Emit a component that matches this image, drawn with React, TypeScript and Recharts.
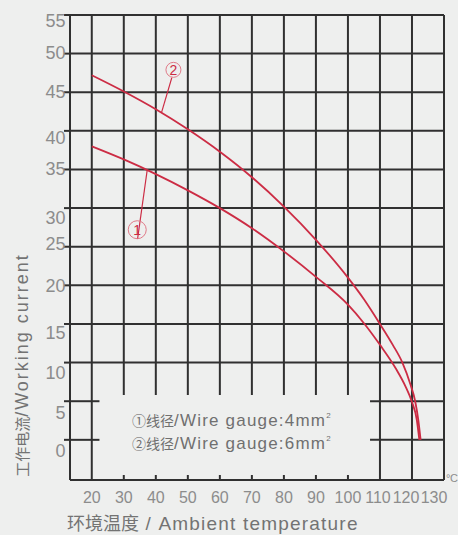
import React from "react"
import { LineChart, Line, XAxis, YAxis, ReferenceLine, ReferenceDot } from "recharts"

// ambient temperature (°C) and working current (A) ticks
const tempTicks = [20, 30, 40, 50, 60, 70, 80, 90, 100, 110, 120, 130]
const currentTicks = [0, 5, 10, 15, 20, 25, 30, 35, 40, 45, 50, 55]

// curve ① wire gauge 4mm²
const temps4mm = [20, 30, 40, 50, 60, 70, 80, 90, 100, 105, 110, 115, 118, 120, 121.5, 122.3]
const current4mm = [38.0, 36.3, 34.4, 32.3, 30.0, 27.4, 24.4, 21.1, 17.5, 15.1, 12.3, 9.2, 6.9, 4.9, 2.6, 0]

// curve ② wire gauge 6mm²
const temps6mm = [20, 30, 40, 50, 60, 70, 80, 90, 100, 105, 110, 114, 117, 119.5, 121, 122, 122.7]
const current6mm = [47.2, 45.1, 42.8, 40.2, 37.3, 34.0, 30.2, 25.9, 21.0, 18.2, 15.0, 12.3, 10.0, 7.2, 5.0, 2.5, 0]

// grid layout of the printed chart
const fullVerticals = [20, 110, 120]
const shortVerticals = [30, 40, 50, 60, 70, 80, 90, 100]
const fullHorizontals = [10, 15, 20, 25, 30, 35, 40, 45, 50]
const stubHorizontals = [0, 5]

const X_MIN = 13.2
const X_MAX = 130
const Y_MIN = -5.2
const Y_MAX = 55
const SHORT_LINE_END = 5.8
const STUB_LEFT_END = 22.4
const STUB_RIGHT_START = 106.9

const curve4 = temps4mm.map((t, i) => ({ t, i: current4mm[i] }))
const curve6 = temps6mm.map((t, i) => ({ t, i: current6mm[i] }))

const GRID = "#303030"
const RED = "#cc2c44"
const FONT = "'Liberation Sans', Arial, 'Noto Sans CJK SC', sans-serif"

// label offsets as printed (they are not exactly on the lines)
const yNudge: Record<number, number> = { 55: 6, 50: -1, 45: 0, 40: 7, 35: 0, 30: 10, 25: -3, 20: 1, 15: 9, 10: 10, 5: 12, 0: 11 }
const xNudge: Record<number, number> = { 110: -2, 120: -6, 130: -10 }

function YTick({ x, y, payload }: any) {
  return (
    <text x={x + 3.5} y={y + (yNudge[payload.value] ?? 0)} textAnchor="end" dominantBaseline="central"
      fontSize={18} fill="#8c8c8c" fontFamily={FONT}>
      {payload.value}
    </text>
  )
}

function XTick({ x, y, payload }: any) {
  return (
    <text x={x + (xNudge[payload.value] ?? 0)} y={y} dy="0.71em" textAnchor="middle"
      fontSize={16} fill="#8c8c8c" fontFamily={FONT}>
      {payload.value}
    </text>
  )
}

export default function App() {
  const line = { stroke: GRID, strokeWidth: 2, ifOverflow: "visible" as const }

  return (
    <div style={{ position: "absolute", left: 0, top: 0, width: 458, height: 535, background: "#eeefee", overflow: "hidden" }}>
      <LineChart width={458} height={535} margin={{ top: 15, right: 14, bottom: 0, left: 0 }}>
        <XAxis dataKey="t" type="number" domain={[X_MIN, X_MAX]} ticks={tempTicks} allowDataOverflow
          height={55} tickLine={false} tickMargin={6} tick={<XTick />}
          axisLine={{ stroke: GRID, strokeWidth: 2 }} />
        <YAxis type="number" domain={[Y_MIN, Y_MAX]} ticks={currentTicks} allowDataOverflow
          width={70} tickSize={6} tickLine={{ stroke: GRID, strokeWidth: 2 }} tick={<YTick />}
          axisLine={{ stroke: GRID, strokeWidth: 2 }} />

        <ReferenceLine y={Y_MAX} {...line} />
        <ReferenceLine x={X_MAX} {...line} />
        {fullHorizontals.map((v) => (
          <ReferenceLine key={`h${v}`} y={v} {...line} />
        ))}
        {stubHorizontals.map((v) => (
          <ReferenceLine key={`sl${v}`} segment={[{ x: X_MIN, y: v }, { x: STUB_LEFT_END, y: v }]} {...line} />
        ))}
        {stubHorizontals.map((v) => (
          <ReferenceLine key={`sr${v}`} segment={[{ x: STUB_RIGHT_START, y: v }, { x: X_MAX, y: v }]} {...line} />
        ))}
        {fullVerticals.map((v) => (
          <ReferenceLine key={`v${v}`} x={v} {...line} />
        ))}
        {shortVerticals.map((v) => (
          <ReferenceLine key={`sv${v}`} segment={[{ x: v, y: SHORT_LINE_END }, { x: v, y: Y_MAX }]} {...line} />
        ))}
        {shortVerticals.map((v) => (
          <ReferenceLine key={`tk${v}`} segment={[{ x: v, y: Y_MIN }, { x: v, y: Y_MIN + 0.65 }]} {...line} />
        ))}

        <Line data={curve4} dataKey="i" type="monotone" stroke={RED} strokeWidth={1.8} dot={false} isAnimationActive={false} />
        <Line data={curve6} dataKey="i" type="monotone" stroke={RED} strokeWidth={1.8} dot={false} isAnimationActive={false} />

        {/* callouts */}
        <ReferenceLine segment={[{ x: 34.3, y: 26.0 }, { x: 37.3, y: 34.9 }]} stroke={RED} strokeWidth={1.2} ifOverflow="visible" />
        <ReferenceDot x={34.2} y={27.2} r={9} fill="none" stroke="#e07a88" strokeWidth={1} ifOverflow="visible"
          label={{ value: "1", position: "center", fill: RED, fontSize: 14, fontFamily: FONT }} />
        <ReferenceLine segment={[{ x: 45.0, y: 46.9 }, { x: 41.8, y: 42.4 }]} stroke={RED} strokeWidth={1.2} ifOverflow="visible" />
        <ReferenceDot x={45.5} y={47.9} r={7.5} fill="none" stroke="#e07a88" strokeWidth={1} ifOverflow="visible"
          label={{ value: "2", position: "center", fill: RED, fontSize: 14, fontFamily: FONT }} />
      </LineChart>

      <svg width={458} height={535} style={{ position: "absolute", left: 0, top: 0, pointerEvents: "none" }} fontFamily={FONT}>
        <text x={22} y={365} transform="rotate(-90 22 365)" textAnchor="middle" dominantBaseline="central" fill="#737373">
          <tspan fontSize={15}>工作电流</tspan>
          <tspan fontSize={18} letterSpacing={2}>/Working current</tspan>
        </text>
        <text x={67} y={530} fill="#737373">
          <tspan fontSize={18}>环境温度</tspan>
          <tspan fontSize={19} letterSpacing={1.2}> / Ambient temperature</tspan>
        </text>
        <text x={446} y={482} fontSize={11} letterSpacing={-0.5} fill="#8c8c8c">°C</text>
        <text x={132} y={426} fill="#707070">
          <tspan fontSize={14}>①线径</tspan>
          <tspan fontSize={17} letterSpacing={1.2}>/Wire gauge:4mm</tspan>
          <tspan fontSize={8} dy={-8}>2</tspan>
        </text>
        <text x={132} y={449} fill="#707070">
          <tspan fontSize={14}>②线径</tspan>
          <tspan fontSize={17} letterSpacing={1.2}>/Wire gauge:6mm</tspan>
          <tspan fontSize={8} dy={-8}>2</tspan>
        </text>
      </svg>
    </div>
  )
}
